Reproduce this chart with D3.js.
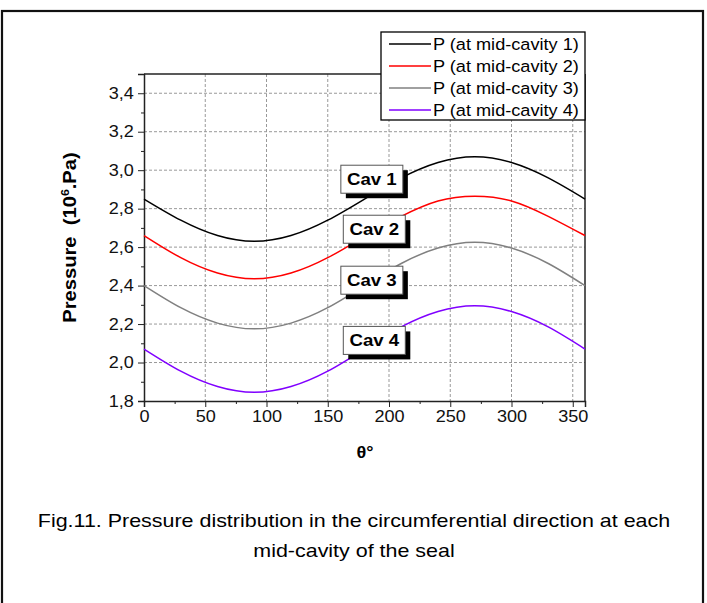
<!DOCTYPE html>
<html>
<head>
<meta charset="utf-8">
<script src="https://cdn.jsdelivr.net/npm/d3@7"></script>
<style>
    body { margin: 0; background: #fff; }
    svg { display: block; font-family: "Liberation Sans", Arial, sans-serif; }
    .grid line { stroke: #999; stroke-dasharray: 3,2; stroke-width: 1; }
    .axis path, .axis line { stroke: #222; }
    .axis text { font-size: 16px; fill: #111; }
</style>
</head>
<body>
<svg id="chart"></svg>
<script>
// angle samples (degrees)
const theta = [0, 30, 60, 90, 120, 150, 180, 210, 240, 270, 300, 330, 360];

// pressure values (10^6 Pa)
const cav1 = [2.85, 2.74, 2.66, 2.63, 2.66, 2.74, 2.85, 2.96, 3.04, 3.07, 3.04, 2.96, 2.85];
const cav2 = [2.66, 2.545, 2.465, 2.435, 2.465, 2.545, 2.655, 2.76, 2.84, 2.865, 2.84, 2.76, 2.66];
const cav3 = [2.40, 2.285, 2.205, 2.175, 2.205, 2.285, 2.40, 2.515, 2.595, 2.625, 2.595, 2.515, 2.40];
const cav4 = [2.07, 1.955, 1.875, 1.845, 1.875, 1.955, 2.07, 2.185, 2.265, 2.295, 2.265, 2.185, 2.07];

const seriesNames = ["P (at mid-cavity 1)", "P (at mid-cavity 2)", "P (at mid-cavity 3)", "P (at mid-cavity 4)"];
const seriesColors = ["#000000", "#ff0000", "#808080", "#8000ff"];

const xTicks = [0, 50, 100, 150, 200, 250, 300, 350];
const yTicks = [1.8, 2.0, 2.2, 2.4, 2.6, 2.8, 3.0, 3.2, 3.4];

// "Cav n" boxes, anchored in data coordinates
const cavLabels = ["Cav 1", "Cav 2", "Cav 3", "Cav 4"];
const cavLabelTheta = [186, 188, 186, 188];
const cavLabelP = [2.953, 2.693, 2.428, 2.115];

const W = 707, H = 603;
const margin = {top: 74, right: 122, bottom: 202, left: 144};
const width = W - margin.left - margin.right;
const height = H - margin.top - margin.bottom;

// the original figure is a bit wider than tall, text looks stretched
const SX = 1.13;

const svg = d3.select("#chart").attr("width", W).attr("height", H);

// outer frame
svg.append("rect")
    .attr("x", 2).attr("y", 11)
    .attr("width", 701).attr("height", 620)
    .attr("fill", "none")
    .attr("stroke", "#111")
    .attr("stroke-width", 2.2);

const chart = svg.append("g")
    .attr("transform", `translate(${margin.left},${margin.top})`);

const xScale = d3.scaleLinear().domain([0, 360]).range([0, width]);
const yScale = d3.scaleLinear().domain([1.8, 3.5]).range([height, 0]);

// grid
chart.append("g").attr("class", "grid")
    .selectAll("line")
    .data(xTicks.filter(d => d > 0))
    .join("line")
    .attr("x1", d => xScale(d)).attr("x2", d => xScale(d))
    .attr("y1", 0).attr("y2", height);

chart.append("g").attr("class", "grid")
    .selectAll("line")
    .data(yTicks.filter(d => d > 1.8))
    .join("line")
    .attr("x1", 0).attr("x2", width)
    .attr("y1", d => yScale(d)).attr("y2", d => yScale(d));

// axes
const xAxis = d3.axisBottom(xScale).tickValues(xTicks).tickSize(6).tickPadding(4);
const xMinor = d3.axisBottom(xScale).tickValues(d3.range(25, 360, 50)).tickSize(3).tickFormat("");
const yAxis = d3.axisLeft(yScale).tickValues(yTicks).tickSize(6).tickPadding(3)
    .tickFormat(d => d3.format(".1f")(d).replace(".", ","));
const yMinor = d3.axisLeft(yScale).tickValues(d3.range(1.9, 3.5, 0.2)).tickSize(3).tickFormat("");

chart.append("g").attr("class", "axis")
    .attr("transform", `translate(0,${height})`)
    .call(xAxis)
    .call(g => g.select(".domain").attr("stroke-width", 1.5))
    .call(g => g.selectAll("text").attr("transform", `scale(${SX},1)`));
chart.append("g").attr("class", "axis")
    .attr("transform", `translate(0,${height})`)
    .call(xMinor)
    .call(g => g.select(".domain").remove());
chart.append("g").attr("class", "axis")
    .call(yAxis)
    .call(g => g.select(".domain").attr("stroke-width", 1.5))
    .call(g => g.selectAll("text").attr("transform", `scale(${SX},1)`));
chart.append("g").attr("class", "axis")
    .call(yMinor)
    .call(g => g.select(".domain").remove());

// top and right frame of the plot
chart.append("line")
    .attr("x1", 0).attr("x2", width).attr("y1", 0).attr("y2", 0)
    .attr("stroke", "#222").attr("stroke-width", 1.5);
chart.append("line")
    .attr("x1", width).attr("x2", width).attr("y1", 0).attr("y2", height)
    .attr("stroke", "#222").attr("stroke-width", 1.5);

// curves
const allSeries = [cav1, cav2, cav3, cav4];
const line = d3.line()
    .x((d, i) => xScale(theta[i]))
    .y(d => yScale(d))
    .curve(d3.curveNatural);

chart.selectAll(".curve")
    .data(allSeries)
    .join("path")
    .attr("class", "curve")
    .attr("fill", "none")
    .attr("stroke", (d, i) => seriesColors[i])
    .attr("stroke-width", 1.5)
    .attr("d", d => line(d));

// Cav labels with drop shadow
const boxW = 62, boxH = 28, shadow = 5;
const cavG = chart.selectAll(".cav")
    .data(cavLabels)
    .join("g")
    .attr("class", "cav")
    .attr("transform", (d, i) => `translate(${xScale(cavLabelTheta[i])},${yScale(cavLabelP[i])})`);

cavG.append("rect")
    .attr("x", -boxW / 2 + shadow).attr("y", -boxH / 2 + shadow)
    .attr("width", boxW).attr("height", boxH)
    .attr("fill", "#000");
cavG.append("rect")
    .attr("x", -boxW / 2).attr("y", -boxH / 2)
    .attr("width", boxW).attr("height", boxH)
    .attr("fill", "#fff")
    .attr("stroke", "#555").attr("stroke-width", 1);
cavG.append("text")
    .attr("text-anchor", "middle")
    .attr("transform", `scale(${SX},1)`)
    .attr("dy", "0.36em")
    .style("font-size", "16.5px")
    .style("font-weight", "bold")
    .text(d => d);

// legend
const legend = svg.append("g").attr("transform", "translate(381,32)");
legend.append("rect")
    .attr("width", 204).attr("height", 88)
    .attr("fill", "#fff")
    .attr("stroke", "#000").attr("stroke-width", 1.3);

seriesNames.forEach((name, i) => {
    const y = 12 + i * 22;
    legend.append("line")
        .attr("x1", 8).attr("x2", 50)
        .attr("y1", y).attr("y2", y)
        .attr("stroke", seriesColors[i])
        .attr("stroke-width", 1.5);
    legend.append("text")
        .attr("transform", `translate(52,${y}) scale(1.1,1)`)
        .attr("dy", "0.36em")
        .style("font-size", "16.5px")
        .text(name);
});

// axis titles
const yTitle = svg.append("text")
    .attr("transform", `translate(76,${margin.top + height / 2}) rotate(-90) scale(1.12,1)`)
    .attr("text-anchor", "middle")
    .style("white-space", "pre")
    .style("font-size", "18px")
    .style("font-weight", "bold");
yTitle.append("tspan").text("Pressure  (10");
yTitle.append("tspan").attr("dy", -7).style("font-size", "11px").text("6");
yTitle.append("tspan").attr("dy", 7).text(".Pa)");

svg.append("text")
    .attr("transform", `translate(365,452) scale(${SX},1)`)
    .attr("dy", "0.36em")
    .attr("text-anchor", "middle")
    .style("font-size", "16px")
    .style("font-weight", "bold")
    .text("θ°");

// caption
const caption = ["Fig.11. Pressure distribution in the circumferential direction at each",
                 "mid-cavity of the seal"];
svg.selectAll(".caption")
    .data(caption)
    .join("text")
    .attr("class", "caption")
    .attr("transform", (d, i) => `translate(354,${520 + i * 30}) scale(1.16,1)`)
    .attr("dy", "0.36em")
    .attr("text-anchor", "middle")
    .style("font-size", "18.5px")
    .text(d => d);
</script>
</body>
</html>
